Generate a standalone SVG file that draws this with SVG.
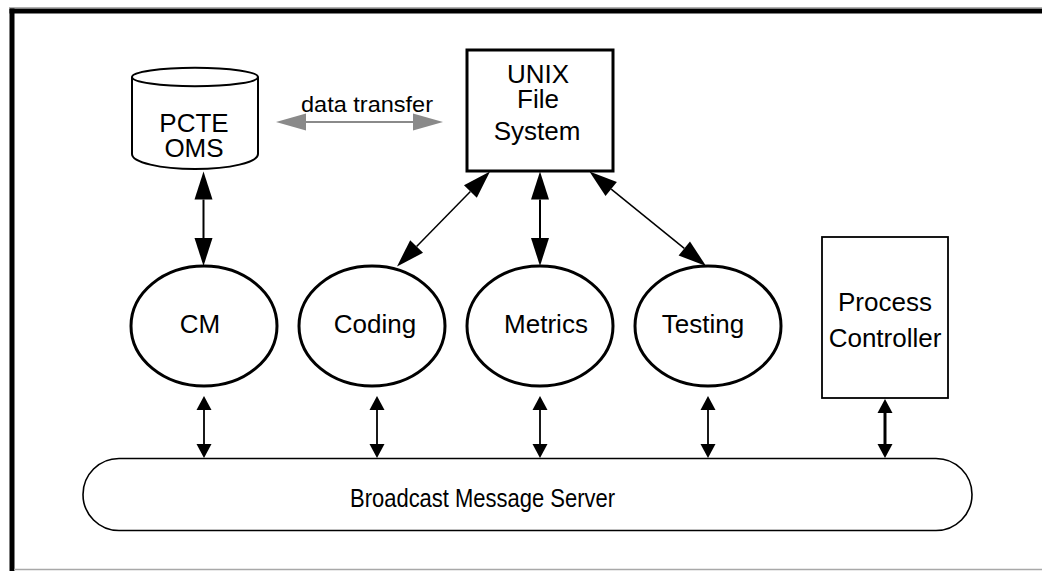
<svg xmlns="http://www.w3.org/2000/svg" width="1042" height="571" viewBox="0 0 1042 571">
<style>
text{font-family:"Liberation Sans",Arial,Helvetica,sans-serif;fill:#000;text-anchor:middle}
.lbl{font-size:26px}
.ell{fill:#fff;stroke:#000;stroke-width:3}
.conn{stroke:#000;fill:none}
</style>
<defs>
<marker id="big" markerUnits="userSpaceOnUse" markerWidth="30" markerHeight="20" refX="0" refY="9" orient="auto-start-reverse" overflow="visible">
<path d="M0,0 L28,9 L0,18 z" fill="#000"/>
</marker>
<marker id="small" markerUnits="userSpaceOnUse" markerWidth="16" markerHeight="16" refX="0" refY="7.5" orient="auto-start-reverse" overflow="visible">
<path d="M0,0 L14,7.5 L0,15 z" fill="#000"/>
</marker>
<marker id="gray" markerUnits="userSpaceOnUse" markerWidth="32" markerHeight="18" refX="0" refY="8.5" orient="auto-start-reverse" overflow="visible">
<path d="M0,0 L30,8.5 L0,17 z" fill="#8a8a8a"/>
</marker>
</defs>
<rect width="1042" height="571" fill="#fff"/>
<g id="frame">
<line x1="9" y1="7.5" x2="1042" y2="7.5" stroke="#b0b0b0" stroke-width="1"/>
<line x1="9.5" y1="11" x2="1042" y2="11" stroke="#000" stroke-width="5"/>
<line x1="12" y1="8.5" x2="12" y2="571" stroke="#000" stroke-width="5"/>
<line x1="14" y1="569.5" x2="1042" y2="569.5" stroke="#a8a8a8" stroke-width="1.5"/>
</g>
<g id="pcte-oms">
<path d="M132,77 L132,154 A63,15 0 0 0 258,154 L258,77" fill="#fff" stroke="#000" stroke-width="2"/>
<ellipse cx="195" cy="77" rx="63" ry="9.3" fill="#fff" stroke="#000" stroke-width="2"/>
<text class="lbl" x="194" y="131.5">PCTE</text>
<text class="lbl" x="194" y="157">OMS</text>
</g>
<g id="unix-fs">
<rect x="467" y="50" width="146" height="121" fill="#fff" stroke="#000" stroke-width="3"/>
<text class="lbl" x="538" y="83">UNIX</text>
<text class="lbl" x="538" y="108">File</text>
<text class="lbl" x="537" y="140">System</text>
</g>
<g id="cm">
<ellipse class="ell" cx="204" cy="326" rx="73" ry="60"/>
<text class="lbl" x="200" y="333">CM</text>
</g>
<g id="coding">
<ellipse class="ell" cx="372" cy="326" rx="73" ry="60"/>
<text class="lbl" x="375" y="333">Coding</text>
</g>
<g id="metrics">
<ellipse class="ell" cx="540" cy="326" rx="73" ry="60"/>
<text class="lbl" x="546" y="333">Metrics</text>
</g>
<g id="testing">
<ellipse class="ell" cx="708" cy="326" rx="73" ry="60"/>
<text class="lbl" x="703" y="333">Testing</text>
</g>
<g id="process-controller">
<rect x="822" y="237" width="126" height="161" fill="#fff" stroke="#000" stroke-width="1.8"/>
<text class="lbl" x="885" y="310.5">Process</text>
<text class="lbl" x="885" y="346.5">Controller</text>
</g>
<g id="bms">
<rect x="83" y="458.5" width="889" height="72" rx="36" ry="36" fill="#fff" stroke="#000" stroke-width="1.6"/>
<text x="482.5" y="507" font-size="25" textLength="265" lengthAdjust="spacingAndGlyphs">Broadcast Message Server</text>
</g>
<g id="connectors">
<line x1="306" y1="122" x2="413" y2="122" stroke="#8a8a8a" stroke-width="2" marker-start="url(#gray)" marker-end="url(#gray)"/>
<text x="367" y="112" font-size="22" textLength="132" lengthAdjust="spacingAndGlyphs">data transfer</text>
<line class="conn" x1="203.5" y1="199.5" x2="203.5" y2="238" stroke-width="2" marker-start="url(#big)" marker-end="url(#big)"/>
<line class="conn" x1="540" y1="199.5" x2="540" y2="238" stroke-width="2" marker-start="url(#big)" marker-end="url(#big)"/>
<line class="conn" x1="470.4" y1="191.5" x2="416.6" y2="246.5" stroke-width="1.5" marker-start="url(#big)" marker-end="url(#big)"/>
<line class="conn" x1="611.2" y1="189.1" x2="684.3" y2="248.4" stroke-width="1.5" marker-start="url(#big)" marker-end="url(#big)"/>
<line class="conn" x1="204" y1="410" x2="204" y2="444" stroke-width="1.8" marker-start="url(#small)" marker-end="url(#small)"/>
<line class="conn" x1="377" y1="410" x2="377" y2="444" stroke-width="1.8" marker-start="url(#small)" marker-end="url(#small)"/>
<line class="conn" x1="540" y1="410" x2="540" y2="444" stroke-width="1.8" marker-start="url(#small)" marker-end="url(#small)"/>
<line class="conn" x1="708" y1="410" x2="708" y2="444" stroke-width="1.8" marker-start="url(#small)" marker-end="url(#small)"/>
<line class="conn" x1="885" y1="413" x2="885" y2="444" stroke-width="3" marker-start="url(#small)" marker-end="url(#small)"/>
</g>
</svg>
